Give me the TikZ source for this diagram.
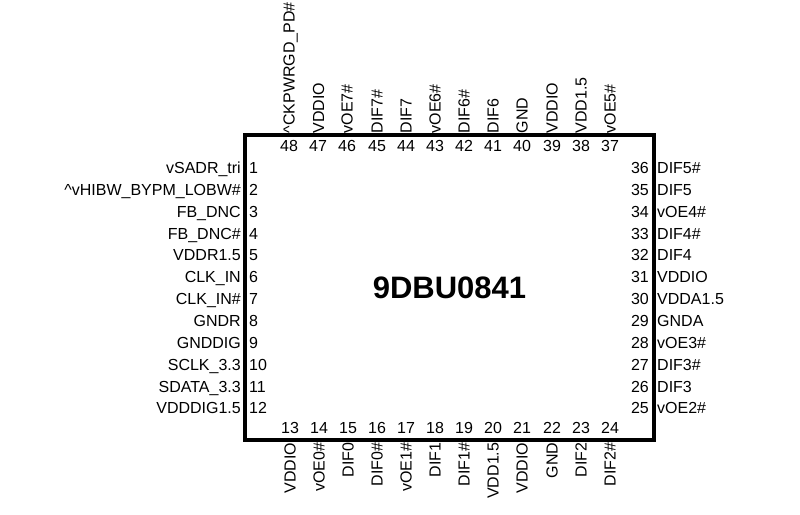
\documentclass[tikz,border=0pt]{standalone}
\usepackage{tikz}
\usepackage{fontspec}
\setmainfont{Liberation Sans}
\newcommand{\pinfont}{\fontsize{16}{18}\selectfont}
\newcommand{\titlefont}{\fontsize{31}{34}\selectfont\bfseries}
\begin{document}
\begin{tikzpicture}[x=1pt,y=-1pt]
\tikzstyle{every node}+=[inner sep=0pt,font=\pinfont]
\tikzstyle{chip}=[draw=black,line width=4pt,minimum width=408.5pt,minimum height=305.3pt,font=\titlefont]
\tikzstyle{pinl}=[anchor=base east]
\tikzstyle{pinr}=[anchor=base west]
\tikzstyle{numl}=[anchor=base west]
\tikzstyle{numr}=[anchor=base east]
\tikzstyle{num}=[anchor=base]
\tikzstyle{pinu}=[rotate=90,anchor=base west]
\tikzstyle{pind}=[rotate=90,anchor=base east]
\useasboundingbox (0,0) rectangle (800,514);
\node [chip] (u1) at (449.5,287.4) {9DBU0841};
% left side
\node [numl] (n1) at (249,173.5) {1};
\node [pinl] (s1) at (241,173.5) {vSADR\_tri};
\node [numl] (n2) at (249,195.4) {2};
\node [pinl] (s2) at (241,195.4) {\textasciicircum vHIBW\_BYPM\_LOBW\#};
\node [numl] (n3) at (249,217.2) {3};
\node [pinl] (s3) at (241,217.2) {FB\_DNC};
\node [numl] (n4) at (249,239.1) {4};
\node [pinl] (s4) at (241,239.1) {FB\_DNC\#};
\node [numl] (n5) at (249,260.9) {5};
\node [pinl] (s5) at (241,260.9) {VDDR1.5};
\node [numl] (n6) at (249,282.8) {6};
\node [pinl] (s6) at (241,282.8) {CLK\_IN};
\node [numl] (n7) at (249,304.6) {7};
\node [pinl] (s7) at (241,304.6) {CLK\_IN\#};
\node [numl] (n8) at (249,326.5) {8};
\node [pinl] (s8) at (241,326.5) {GNDR};
\node [numl] (n9) at (249,348.3) {9};
\node [pinl] (s9) at (241,348.3) {GNDDIG};
\node [numl] (n10) at (249,370.2) {10};
\node [pinl] (s10) at (241,370.2) {SCLK\_3.3};
\node [numl] (n11) at (249,392) {11};
\node [pinl] (s11) at (241,392) {SDATA\_3.3};
\node [numl] (n12) at (249,413.9) {12};
\node [pinl] (s12) at (241,413.9) {VDDDIG1.5};
% bottom side
\node [num] (n13) at (290,433.5) {13};
\node [pind] (s13) at (295.5,442.5) {VDDIO};
\node [num] (n14) at (319,433.5) {14};
\node [pind] (s14) at (324.5,442.5) {vOE0\#};
\node [num] (n15) at (348,433.5) {15};
\node [pind] (s15) at (353.5,442.5) {DIF0};
\node [num] (n16) at (377,433.5) {16};
\node [pind] (s16) at (382.5,442.5) {DIF0\#};
\node [num] (n17) at (406,433.5) {17};
\node [pind] (s17) at (411.5,442.5) {vOE1\#};
\node [num] (n18) at (435,433.5) {18};
\node [pind] (s18) at (440.5,442.5) {DIF1};
\node [num] (n19) at (464,433.5) {19};
\node [pind] (s19) at (469.5,442.5) {DIF1\#};
\node [num] (n20) at (493,433.5) {20};
\node [pind] (s20) at (498.5,442.5) {VDD1.5};
\node [num] (n21) at (522,433.5) {21};
\node [pind] (s21) at (527.5,442.5) {VDDIO};
\node [num] (n22) at (552,433.5) {22};
\node [pind] (s22) at (557.5,442.5) {GND};
\node [num] (n23) at (581,433.5) {23};
\node [pind] (s23) at (586.5,442.5) {DIF2};
\node [num] (n24) at (610,433.5) {24};
\node [pind] (s24) at (615.5,442.5) {DIF2\#};
% right side
\node [numr] (n25) at (649,413.9) {25};
\node [pinr] (s25) at (657,413.9) {vOE2\#};
\node [numr] (n26) at (649,392) {26};
\node [pinr] (s26) at (657,392) {DIF3};
\node [numr] (n27) at (649,370.2) {27};
\node [pinr] (s27) at (657,370.2) {DIF3\#};
\node [numr] (n28) at (649,348.3) {28};
\node [pinr] (s28) at (657,348.3) {vOE3\#};
\node [numr] (n29) at (649,326.5) {29};
\node [pinr] (s29) at (657,326.5) {GNDA};
\node [numr] (n30) at (649,304.6) {30};
\node [pinr] (s30) at (657,304.6) {VDDA1.5};
\node [numr] (n31) at (649,282.8) {31};
\node [pinr] (s31) at (657,282.8) {VDDIO};
\node [numr] (n32) at (649,260.9) {32};
\node [pinr] (s32) at (657,260.9) {DIF4};
\node [numr] (n33) at (649,239.1) {33};
\node [pinr] (s33) at (657,239.1) {DIF4\#};
\node [numr] (n34) at (649,217.2) {34};
\node [pinr] (s34) at (657,217.2) {vOE4\#};
\node [numr] (n35) at (649,195.4) {35};
\node [pinr] (s35) at (657,195.4) {DIF5};
\node [numr] (n36) at (649,173.5) {36};
\node [pinr] (s36) at (657,173.5) {DIF5\#};
% top side
\node [num] (n37) at (610,151.5) {37};
\node [pinu] (s37) at (615.5,133.5) {vOE5\#};
\node [num] (n38) at (581,151.5) {38};
\node [pinu] (s38) at (586.5,133.5) {VDD1.5};
\node [num] (n39) at (552,151.5) {39};
\node [pinu] (s39) at (557.5,133.5) {VDDIO};
\node [num] (n40) at (522,151.5) {40};
\node [pinu] (s40) at (527.5,133.5) {GND};
\node [num] (n41) at (493,151.5) {41};
\node [pinu] (s41) at (498.5,133.5) {DIF6};
\node [num] (n42) at (464,151.5) {42};
\node [pinu] (s42) at (469.5,133.5) {DIF6\#};
\node [num] (n43) at (435,151.5) {43};
\node [pinu] (s43) at (440.5,133.5) {vOE6\#};
\node [num] (n44) at (406,151.5) {44};
\node [pinu] (s44) at (411.5,133.5) {DIF7};
\node [num] (n45) at (377,151.5) {45};
\node [pinu] (s45) at (382.5,133.5) {DIF7\#};
\node [num] (n46) at (347,151.5) {46};
\node [pinu] (s46) at (352.5,133.5) {vOE7\#};
\node [num] (n47) at (318,151.5) {47};
\node [pinu] (s47) at (324,133.5) {VDDIO};
\node [num] (n48) at (289,151.5) {48};
\node [pinu] (s48) at (294.5,133.5) {\textasciicircum CKPWRGD\_PD\#};
\end{tikzpicture}
\end{document}
